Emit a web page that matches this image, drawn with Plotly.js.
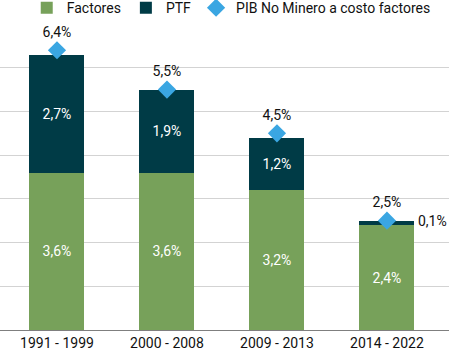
<!DOCTYPE html>
<html><head><meta charset="utf-8">
<script src="https://cdn.plot.ly/plotly-3.0.1.min.js"></script>
<style>html,body{margin:0;padding:0;background:#fff}#c{width:449px;height:354px}</style>
</head><body><div id="c"></div>
<script>
const categories = ['1991 - 1999', '2000 - 2008', '2009 - 2013', '2014 - 2022'];
const factores = [3.6, 3.6, 3.2, 2.4];
const ptf = [2.7, 1.9, 1.2, 0.1];
const pib = [6.4, 5.5, 4.5, 2.5];

const fmt = v => v.toFixed(1).replace('.', ',') + '%';
const FONT = 'Roboto, Open Sans, sans-serif';

const traces = [
  {type: 'bar', name: 'Factores', x: categories, y: factores,
   marker: {color: '#77A15A', line: {width: 0}},
   text: factores.map(fmt), textposition: 'inside', insidetextanchor: 'middle',
   textfont: {color: '#ffffff', size: 14, family: FONT}, hoverinfo: 'none'},
  {type: 'bar', name: 'PTF', x: categories, y: ptf,
   marker: {color: '#003B46', line: {width: 0}},
   text: ptf.map((v, i) => v >= 0.5 ? fmt(v) : ''), textposition: 'inside', insidetextanchor: 'middle',
   textfont: {color: '#ffffff', size: 14, family: FONT}, hoverinfo: 'none'},
  {type: 'scatter', mode: 'markers+text', name: 'PIB No Minero a costo factores',
   x: categories, y: pib,
   marker: {symbol: 'diamond', size: 14, color: '#3AA6E2'},
   text: pib.map(fmt), textposition: 'top center',
   textfont: {color: '#111111', size: 14, family: FONT}, cliponaxis: false, hoverinfo: 'none'}
];

const annotations = [];
ptf.forEach((v, i) => {
  if (v < 0.5) {
    annotations.push({x: categories[i], y: factores[i] + v / 2, text: fmt(v), showarrow: false,
      xanchor: 'left', xshift: 29, yshift: 2, font: {color: '#111111', size: 14, family: FONT}});
  }
});

const layout = {
  width: 449, height: 354,
  margin: {l: 0, r: 0, t: 24, b: 24, autoexpand: false},
  barmode: 'stack', bargap: 0.5,
  paper_bgcolor: '#ffffff', plot_bgcolor: '#ffffff',
  font: {family: FONT, size: 14, color: '#111111'},
  showlegend: true,
  legend: {orientation: 'h', x: 0.515, xanchor: 'center', y: 1.052, yanchor: 'middle',
    font: {size: 14, family: FONT, color: '#111111'}, traceorder: 'normal',
    itemwidth: 20, tracegroupgap: 0, bgcolor: 'rgba(0,0,0,0)'},
  xaxis: {type: 'category', range: [-0.518, 3.564], showgrid: false, zeroline: false,
    showline: true, linecolor: '#7f7f7f', linewidth: 1, ticks: '',
    tickfont: {size: 14, family: FONT, color: '#111111'}, fixedrange: true, automargin: false},
  yaxis: {range: [0, 7], dtick: 1, showgrid: true, gridcolor: '#d3d3d3', gridwidth: 1,
    showticklabels: false, zeroline: false, showline: false, fixedrange: true, automargin: false},
  annotations: annotations
};

Plotly.newPlot('c', traces, layout, {displayModeBar: false, staticPlot: true});
</script>
</body></html>
